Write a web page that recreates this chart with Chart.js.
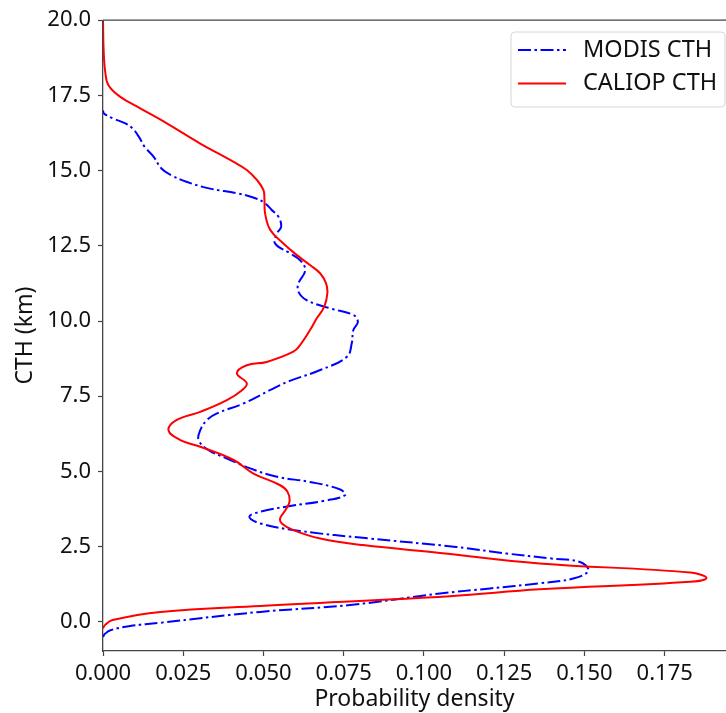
<!DOCTYPE html>
<html><head><meta charset="utf-8">
<script src="https://cdn.jsdelivr.net/npm/chart.js@4"></script>
<style>html,body{margin:0;padding:0;background:#fff;overflow:hidden}</style>
</head><body>
<canvas id="c" width="726" height="713"></canvas>
<script>
// Cloud top height (km) and probability density
const modisHeight = [-0.5,-0.4,-0.28,-0.14,-0.03,0.33,0.56,0.94,1.11,1.28,1.44,1.70,1.99,2.11,2.27,2.49,2.77,3.02,3.27,3.49,3.66,3.85,4.02,4.21,4.40,4.65,4.82,5.10,5.43,5.71,6.04,6.37,6.71,6.93,7.26,7.70,8.00,8.37,8.81,9.26,9.70,9.97,10.20,10.42,10.69,10.97,11.25,11.69,12.02,12.25,12.58,12.91,13.13,13.46,13.70,13.91,14.08,14.24,14.41,14.63,14.85,15.07,15.46,15.79,16.12,16.40,16.57,16.74,16.90,17.0];
const modisDensity = [0,0.0006,0.0023,0.0085,0.0179,0.049,0.077,0.105,0.1206,0.136,0.1465,0.1512,0.1486,0.1393,0.1258,0.110,0.083,0.0614,0.049,0.0456,0.049,0.0583,0.0687,0.0754,0.0739,0.0645,0.0542,0.0459,0.0386,0.0329,0.0298,0.0303,0.0324,0.0355,0.0438,0.052,0.058,0.0677,0.076,0.0775,0.078,0.0794,0.078,0.0708,0.0635,0.0609,0.0609,0.063,0.0614,0.0583,0.0536,0.0542,0.0555,0.0547,0.0525,0.0505,0.0475,0.0420,0.0330,0.0260,0.0212,0.0182,0.0158,0.0130,0.0112,0.0092,0.0070,0.0030,0.0003,0];
const caliopHeight = [-0.21,-0.1,0.06,0.33,0.53,0.85,1.08,1.33,1.46,1.64,1.94,2.29,2.55,2.77,3.05,3.27,3.44,3.71,3.99,4.32,4.54,4.93,5.38,5.82,6.04,6.37,6.71,6.98,7.37,7.70,7.93,8.26,8.53,8.64,8.98,9.20,9.70,10.09,10.47,10.92,11.25,11.58,11.86,12.19,12.58,13.03,13.58,14.02,14.35,14.68,15.02,15.29,15.90,16.57,17.07,17.45,17.84,18.28,19.0,20.0];
const caliopDensity = [0,0.0007,0.0030,0.0179,0.049,0.108,0.136,0.183,0.188,0.183,0.136,0.105,0.081,0.0677,0.0593,0.0557,0.0552,0.0568,0.0581,0.0575,0.0552,0.0469,0.0407,0.0303,0.0241,0.0204,0.023,0.0303,0.0386,0.0433,0.0448,0.0417,0.0448,0.051,0.0593,0.0614,0.0645,0.0666,0.0689,0.0699,0.0695,0.0677,0.0645,0.0604,0.0562,0.0521,0.0505,0.0503,0.05,0.048,0.0448,0.0407,0.0303,0.0199,0.0116,0.0054,0.0017,0.0007,0.0002,0];
const xTickValues = [0,0.025,0.05,0.075,0.1,0.125,0.15,0.175];
const yTickValues = [0,2.5,5,7.5,10,12.5,15,17.5,20];
const seriesLabels = ['MODIS CTH','CALIOP CTH'];
const xAxisTitle = 'Probability density';
const yAxisTitle = 'CTH (km)';

const FONT = "'Noto Sans', 'DejaVu Sans', sans-serif";
const toPoints = (h, d) => h.map((v, i) => ({x: d[i], y: v}));

const frameAndLegend = {
  id: 'frameAndLegend',
  afterDraw(chart) {
    const {ctx, chartArea} = chart;
    ctx.save();
    // top spine
    ctx.strokeStyle = '#444';
    ctx.lineWidth = 1.3;
    ctx.beginPath();
    ctx.moveTo(chartArea.left, chartArea.top);
    ctx.lineTo(chartArea.right, chartArea.top);
    ctx.stroke();
    // legend box
    const bx = 511, by = 32, bw = 214, bh = 75, r = 4;
    ctx.beginPath();
    ctx.moveTo(bx + r, by);
    ctx.lineTo(bx + bw - r, by); ctx.quadraticCurveTo(bx + bw, by, bx + bw, by + r);
    ctx.lineTo(bx + bw, by + bh - r); ctx.quadraticCurveTo(bx + bw, by + bh, bx + bw - r, by + bh);
    ctx.lineTo(bx + r, by + bh); ctx.quadraticCurveTo(bx, by + bh, bx, by + bh - r);
    ctx.lineTo(bx, by + r); ctx.quadraticCurveTo(bx, by, bx + r, by);
    ctx.closePath();
    ctx.fillStyle = 'rgba(255,255,255,0.85)';
    ctx.fill();
    ctx.strokeStyle = '#d6d6d6';
    ctx.lineWidth = 1;
    ctx.stroke();
    const rows = [50, 83.5];
    chart.data.datasets.forEach((ds, i) => {
      const y = rows[i];
      ctx.strokeStyle = ds.borderColor;
      ctx.lineWidth = ds.borderWidth;
      ctx.setLineDash(ds.borderDash || []);
      ctx.beginPath();
      ctx.moveTo(518, y); ctx.lineTo(566, y);
      ctx.stroke();
      ctx.setLineDash([]);
      ctx.fillStyle = '#111';
      ctx.font = '23.5px ' + FONT;
      ctx.textBaseline = 'middle';
      ctx.textAlign = 'left';
      ctx.fillText(ds.label, 583, y);
    });
    ctx.restore();
  }
};

new Chart(document.getElementById('c'), {
  type: 'scatter',
  data: {
    datasets: [
      {label: seriesLabels[0], data: toPoints(modisHeight, modisDensity), showLine: true,
       borderColor: '#0000ff', borderWidth: 2, borderDash: [13, 3.5, 2.5, 3.5],
       pointRadius: 0, tension: 0.4, order: 2},
      {label: seriesLabels[1], data: toPoints(caliopHeight, caliopDensity), showLine: true,
       borderColor: '#ff0000', borderWidth: 2,
       pointRadius: 0, tension: 0.4, order: 1}
    ]
  },
  options: {
    responsive: false, animation: false, devicePixelRatio: 1,
    layout: {padding: {top: 20, right: 0, left: 0, bottom: 0}},
    plugins: {legend: {display: false}, tooltip: {enabled: false}},
    scales: {
      x: {
        type: 'linear', min: 0, max: 0.1941,
        afterBuildTicks: s => { s.ticks = xTickValues.map(v => ({value: v})); },
        afterFit: s => { s.height = 62; },
        ticks: {color: '#111', font: {family: FONT, size: 22}, padding: 5,
                callback: v => Number(v).toFixed(3), maxRotation: 0, autoSkip: false},
        grid: {drawOnChartArea: false, drawTicks: true, tickLength: 5, color: '#444', tickWidth: 1.2},
        border: {display: true, color: '#444', width: 1.3},
        title: {display: true, text: xAxisTitle, color: '#111', font: {family: FONT, size: 23}, padding: {top: 0, bottom: 0}}
      },
      y: {
        type: 'linear', min: -0.97, max: 20,
        afterBuildTicks: s => { s.ticks = yTickValues.map(v => ({value: v})); },
        afterFit: s => { s.width = 103; },
        ticks: {color: '#111', font: {family: FONT, size: 22}, padding: 7,
                callback: v => Number(v).toFixed(1), autoSkip: false},
        grid: {drawOnChartArea: false, drawTicks: true, tickLength: 5, color: '#444', tickWidth: 1.2},
        border: {display: true, color: '#444', width: 1.3},
        title: {display: true, text: yAxisTitle, color: '#111', font: {family: FONT, size: 23}, padding: {top: 12, bottom: 0}}
      }
    }
  },
  plugins: [frameAndLegend]
});
</script>
</body></html>
